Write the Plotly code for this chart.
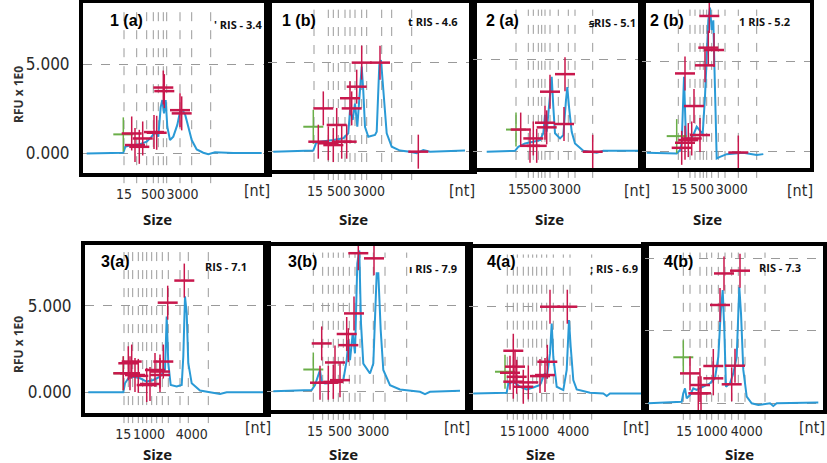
import plotly.graph_objects as go

W, H = 827, 463

# ---- data (x = migration position inside each panel, y = RFU) ----
# 1 (a)
p1a_x = [3.7, 40.3, 42.3, 47, 57, 63.7, 68.7, 72, 75.3, 77.7, 79.3, 81, 82.7, 84.3, 87, 90.3, 94.3, 97,
         99.7, 102.3, 105.3, 108.7, 113.7, 120.3, 125.3, 132, 150.3, 178.7]
p1a_y = [0, 0.04, 0.37, 0.45, 0.52, 0.66, 0.94, 1.2, 0.94, 2.6, 3.0, 2.25, 3.0, 1.5, 0.75, 0.94, 1.6, 2.34,
         2.43, 2.15, 1.5, 0.75, 0.22, 0.04, -0.04, 0.06, 0.02, 0.02]
p1a_red_x = [48.7, 52, 56.3, 59.7, 71, 73.7, 80.3, 81.3, 97, 98.7]
p1a_red_y = [1.12, 0.47, 0.37, 0.84, 1.2, 1.16, 3.7, 3.5, 2.43, 2.25]
p1a_green_x = [40.3]
p1a_green_y = [1.07]
p1a_ladder = [41, 53.7, 63.7, 70.3, 75.3, 80.3, 83.7, 97, 108.7, 127.7]
p1a_ticks = [41, 70, 99.5]

# 1 (b)
p1b_x = [5.3, 45.3, 48, 52, 65.3, 75.3, 80.3, 82, 84.7, 87, 89.3, 92, 93.7, 95.3, 97, 100.3, 107, 108.7,
         111.3, 113, 115.3, 118.7, 123.7, 132, 142, 148.7, 155.3, 162, 197]
p1b_y = [0, 0.06, 0.47, 0.56, 0.66, 0.75, 1.03, 2.34, 1.78, 2.7, 1.4, 3.8, 4.78, 3.4, 1.4, 0.84, 0.94, 1.12,
         4.87, 5.15, 3.65, 1.03, 0.28, 0.06, 0, -0.09, 0.09, 0, 0.06]
p1b_red_x = [55.3, 50.3, 60.3, 68.7, 73.7, 65.3, 78.7, 82, 83.7, 88.7, 93.7, 112, 150.3]
p1b_red_y = [2.43, 0.56, 0.47, 1.5, 0.56, 0.37, 0.56, 3.0, 2.43, 3.65, 5.0, 5.0, 0]
p1b_green_x = [45.3]
p1b_green_y = [1.4]
p1b_ladder = [46, 60.3, 65.3, 70.3, 77, 82, 87, 93.7, 98.7, 113.7, 123.7, 143.7]
p1b_ticks = [47, 71, 101]

# 2 (a)
p2a_x = [13.7, 42, 45.3, 52, 60.3, 67, 70.3, 72, 73.7, 77, 78.7, 80.3, 82, 87, 90.3, 93, 94.3, 96.3,
         98.7, 102, 110.3, 123.7, 130.3, 167]
p2a_y = [0, 0.05, 0.27, 0.45, 0.54, 0.63, 1.0, 2.0, 1.08, 3.0, 4.06, 2.44, 1.0, 0.72, 0.9, 2.8, 3.5, 2.26,
         1.08, 0.45, 0.05, -0.05, 0.05, 0.05]
p2a_red_x = [47.7, 60.3, 57, 63.7, 72, 73.7, 77, 92, 91, 119.7]
p2a_red_y = [1.2, 0.72, 0.32, 0.32, 1.57, 1.32, 3.25, 4.2, 1.5, 0]
p2a_green_x = [43]
p2a_green_y = [1.2]
p2a_ladder = [43, 55.3, 60.3, 65.3, 68.7, 72, 77, 85.3, 95.3, 102, 119.7]
p2a_ticks = [43, 62, 92]

# 2 (b)
p2b_x = [4.7, 34.7, 38, 39.7, 42, 44, 48, 51.3, 54.7, 58, 60.7, 63, 64.7, 66.3, 68, 69.7, 71.3, 73,
         74.7, 78, 84.7, 101.3, 114.7, 121.3]
p2b_y = [-0.05, -0.09, 0.09, 0.46, 4.17, 0.65, 0.65, 0.93, 1.39, 1.2, 1.0, 3.06, 5.65, 7.3, 8.0, 6.76, 7.3,
         3.8, -0.37, -0.28, -0.13, -0.05, -0.18, -0.13]
p2b_red_x = [43, 39.7, 43, 46.3, 49.7, 52, 58, 63, 72, 66.3, 67.3, 96.3]
p2b_red_y = [4.35, 0.22, 0.5, 0.65, 0.74, 2.54, 0.93, 4.8, 5.65, 5.78, 7.54, -0.04]
p2b_green_x = [34.7]
p2b_green_y = [0.87]
p2b_ladder = [36.3, 48, 53, 58, 61.3, 64.7, 69.7, 76.3, 83, 96.3, 114.7]
p2b_ticks = [37.3, 60, 89.7]

# 3(a)
p3a_x = [3.3, 38.3, 40, 43.3, 48.3, 55, 61.7, 68.3, 75, 80, 81.7, 83.3, 85.7, 91.7, 96.7, 98.3, 100, 101.7,
         103.3, 106.7, 115, 128.3, 135, 141.7, 178.3]
p3a_y = [0, 0, 0.52, 0.81, 0.9, 0.81, 0.62, 0.71, 0.9, 1.29, 4.38, 1.68, 0.42, 0.33, 0.42, 2.07, 5.55, 4.58,
         1.68, 0.52, 0.1, -0.02, -0.1, 0, 0]
p3a_red_x = [38.3, 43.3, 46.7, 45, 50, 53.3, 61.7, 65, 70, 75, 78.3, 75, 82.7, 99.3]
p3a_red_y = [1.1, 1.68, 1.78, 1.1, 1.0, 0.95, 0.42, 0.48, 1.29, 1.2, 1.78, 1.0, 5.19, 6.47]
p3a_green_x = [38.3]
p3a_green_y = [1.1]
p3a_ladder = [39, 43.3, 47.7, 53.3, 57.7, 61.7, 66.7, 71.7, 77.3, 83.3, 95, 103.3, 123.3]
p3a_ticks = [38.3, 64, 106.7]

# 3(b)
p3b_x = [6.3, 44.7, 48, 53, 54.7, 58, 66.3, 76.3, 79.7, 81.3, 83, 85.7, 88, 90.3, 92.3, 94, 96.3, 99.7,
         103, 106.3, 109.7, 111.3, 113.7, 116.3, 123, 133, 146.3, 153, 158, 163, 193]
p3b_y = [0, 0.06, 0.35, 1.23, 0.54, 0.45, 0.49, 0.64, 1.8, 2.98, 1.8, 3.37, 2.2, 7.45, 8.2, 3.95, 1.6, 1.3,
         1.03, 1.6, 6.87, 6.87, 3.56, 1.23, 0.35, 0.1, 0, -0.04, -0.17, -0.04, 0.02]
p3b_red_x = [54.7, 68, 61.3, 53, 66.3, 73, 79.7, 81.3, 87, 91.3, 107]
p3b_red_y = [2.78, 1.67, 0.49, 0.49, 0.54, 0.64, 3.33, 2.68, 4.53, 8.04, 7.74]
p3b_green_x = [46.3]
p3b_green_y = [1.26]
p3b_ladder = [46.3, 55.7, 61.3, 66.3, 71.3, 76.3, 82.3, 88, 93, 106.3, 118, 139.7]
p3b_ticks = [48, 73, 106.3]

# 4(a)
p4a_x = [4.3, 37.7, 39.3, 44.3, 51, 57.7, 64.3, 71, 74.3, 76, 77.7, 81, 82.7, 84.3, 87.7, 94.3, 97.7, 100,
         101.7, 104.3, 107.7, 121, 134.3, 137.7, 141, 174.3]
p4a_y = [0, 0.04, 0.57, 0.67, 0.38, 0.23, 0.34, 0.48, 0.95, 1.15, 0.86, 2.29, 4.0, 2.1, 0.38, 0.19, 1.34,
         4.2, 2.67, 0.76, 0.23, 0.04, 0, -0.15, 0, 0]
p4a_red_x = [44.3, 46, 41, 44.3, 47.7, 54.3, 59.3, 71, 76, 78.3, 81, 98.3]
p4a_red_y = [2.44, 1.53, 1.18, 0.67, 0.95, 0.38, 0.63, 0.99, 1.05, 1.81, 4.96, 4.96]
p4a_green_x = [36]
p4a_green_y = [1.24]
p4a_ladder = [38.3, 44.3, 48.3, 54.3, 59.3, 63.7, 67.7, 72.7, 77.7, 84.3, 94.3, 101, 122.7]
p4a_ticks = [38.7, 64.3, 104.3]

# 4(b)
p4b_x = [3.3, 36.7, 38.3, 40, 41.7, 45, 48.3, 51.7, 58.3, 65, 70, 73.3, 75.7, 77.7, 79.3, 81, 85, 88.3,
         91.7, 94.3, 96, 98.3, 101.7, 106.7, 113.3, 125, 128.3, 131.7, 173.3]
p4b_y = [0, 0.11, 0.69, 1.03, 0.34, 0.57, 1.03, 0.92, 1.15, 1.38, 1.72, 3.2, 6.2, 7.8, 5.05, 1.15, 1.38,
         2.06, 3.2, 8.0, 6.2, 2.3, 0.46, 0, -0.11, 0, -0.18, 0, 0.05]
p4b_red_x = [45, 55, 53.3, 56, 68.3, 68.3, 75, 79, 86.7, 90, 95]
p4b_red_y = [2.06, 1.26, 0.69, 0.69, 2.57, 1.72, 6.77, 8.94, 1.31, 2.59, 9.13]
p4b_green_x = [38.3]
p4b_green_y = [3.17]
p4b_ladder = [38.3, 45, 55, 61.7, 66.7, 73.3, 80, 86.7, 93.3, 100, 120]
p4b_ticks = [39, 66.7, 101.7]

labels_a = ["15", "500", "3000"]
labels_b = ["15", "1000", "4000"]
titles = ["1 (a)", "1 (b)", "2 (a)", "2 (b)", "3(a)", "3(b)", "4(a)", "4(b)"]
ris = ["' RIS - 3.4", "t RIS - 4.6", "ꞩRIS - 5.1", "1 RIS - 5.2",
       "RIS - 7.1", "ı RIS - 7.9", "; RIS - 6.9", "RIS - 7.3"]

panels = [
    dict(x=p1a_x, y=p1a_y, rx=p1a_red_x, ry=p1a_red_y, gx=p1a_green_x, gy=p1a_green_y, lad=p1a_ladder, tv=p1a_ticks, tt=labels_a),
    dict(x=p1b_x, y=p1b_y, rx=p1b_red_x, ry=p1b_red_y, gx=p1b_green_x, gy=p1b_green_y, lad=p1b_ladder, tv=p1b_ticks, tt=labels_a),
    dict(x=p2a_x, y=p2a_y, rx=p2a_red_x, ry=p2a_red_y, gx=p2a_green_x, gy=p2a_green_y, lad=p2a_ladder, tv=p2a_ticks, tt=labels_a),
    dict(x=p2b_x, y=p2b_y, rx=p2b_red_x, ry=p2b_red_y, gx=p2b_green_x, gy=p2b_green_y, lad=p2b_ladder, tv=p2b_ticks, tt=labels_a),
    dict(x=p3a_x, y=p3a_y, rx=p3a_red_x, ry=p3a_red_y, gx=p3a_green_x, gy=p3a_green_y, lad=p3a_ladder, tv=p3a_ticks, tt=labels_b),
    dict(x=p3b_x, y=p3b_y, rx=p3b_red_x, ry=p3b_red_y, gx=p3b_green_x, gy=p3b_green_y, lad=p3b_ladder, tv=p3b_ticks, tt=labels_a),
    dict(x=p4a_x, y=p4a_y, rx=p4a_red_x, ry=p4a_red_y, gx=p4a_green_x, gy=p4a_green_y, lad=p4a_ladder, tv=p4a_ticks, tt=labels_b),
    dict(x=p4b_x, y=p4b_y, rx=p4b_red_x, ry=p4b_red_y, gx=p4b_green_x, gy=p4b_green_y, lad=p4b_ladder, tv=p4b_ticks, tt=labels_b),
]

# ---- layout of the collage (pixel boxes: left, right, top, bottom) and y ranges ----
boxes = [(83, 268, 3, 173), (268, 473, 3, 170), (473, 642, 3, 168), (642, 810, 3, 168),
         (85, 267, 245, 413), (267, 469, 246, 410), (469, 645, 248, 410), (645, 823, 246, 410)]
yranges = [(-1.1, 8.45), (-1.03, 8.35), (-0.88, 8.05), (-0.9, 8.26),
           (-1.2, 8.53), (-1.1, 8.46), (-0.95, 8.32), (-0.46, 10.83)]
title_pos = [(127, 20), (299, 20), (502, 20), (667, 20), (115, 261), (302, 261), (501, 261), (678, 261)]
ris_pos = [(238, 25), (433, 21), (612, 22), (764, 21), (226, 266), (433, 268), (614, 268), (780, 267)]
nt_pos = [(257, 190), (462, 190), (637, 190), (800, 190), (258, 427), (457, 427), (636, 427), (812, 427)]
size_pos = [(157, 219), (353, 219), (549, 219), (707, 219), (157, 454), (343, 454), (540, 454), (739, 454)]

BLUE = "#2a9ad6"
RED = "#c8174c"
GREEN = "#6aae48"
GRID = "#9a9a9a"
NARROW = "Liberation Sans Narrow, DejaVu Sans Condensed, Roboto, sans-serif"

fig = go.Figure()
shapes = []
annotations = []


def note(px, py, text, font, angle=0):
    return dict(x=px / W, y=1 - py / H, xref="paper", yref="paper", text=text, showarrow=False,
                xanchor="center", yanchor="middle", textangle=angle, font=font)


for i, (p, box, yr) in enumerate(zip(panels, boxes, yranges)):
    n = "" if i == 0 else str(i + 1)
    xa, ya = "x" + n, "y" + n
    l, r, t, b = box
    px_per_unit = (b - t) / (yr[1] - yr[0])
    arm_y = 17 / px_per_unit

    fig.add_trace(go.Scatter(x=p["x"], y=p["y"], mode="lines", xaxis=xa, yaxis=ya,
                             line=dict(color=BLUE, width=2), showlegend=False, hoverinfo="skip"))
    fig.add_trace(go.Scatter(x=p["gx"], y=p["gy"], mode="markers", xaxis=xa, yaxis=ya,
                             marker=dict(size=1, opacity=0), showlegend=False, hoverinfo="skip",
                             error_x=dict(type="constant", value=10, width=0, thickness=2, color=GREEN),
                             error_y=dict(type="constant", value=arm_y, width=0, thickness=1.5, color=GREEN)))
    fig.add_trace(go.Scatter(x=p["rx"], y=p["ry"], mode="markers", xaxis=xa, yaxis=ya,
                             marker=dict(size=1, opacity=0), showlegend=False, hoverinfo="skip",
                             error_x=dict(type="constant", value=10, width=0, thickness=2.5, color=RED),
                             error_y=dict(type="constant", value=arm_y, width=0, thickness=1.5, color=RED)))

    yt = [0, 5, 10] if i == 7 else [0, 5]
    fig.update_layout({
        ("xaxis" + n): dict(domain=[l / W, r / W], range=[0, r - l], anchor=ya,
                            showline=True, mirror=True, linewidth=4, linecolor="black",
                            showgrid=False, zeroline=False, tickmode="array",
                            tickvals=p["tv"], ticktext=p["tt"], ticks="", tickangle=0,
                            ticklabelstandoff=5,
                            tickfont=dict(family=NARROW, size=14, color="#2a2a2a")),
        ("yaxis" + n): dict(domain=[1 - b / H, 1 - t / H], range=list(yr), anchor=xa,
                            showline=True, mirror=True, linewidth=4, linecolor="black",
                            showgrid=True, gridcolor=GRID, griddash="dash", gridwidth=1,
                            zeroline=False, tickmode="array", tickvals=yt,
                            ticktext=["%.3f" % v for v in yt], ticks="",
                            showticklabels=(i in (0, 4)), ticklabelstandoff=6,
                            tickfont=dict(family=NARROW, size=17, color="#2a2a2a")),
    })

    for lx in p["lad"]:
        shapes.append(dict(type="line", xref=xa, yref=ya + " domain", x0=lx, x1=lx, y0=-0.06, y1=0.96,
                           line=dict(color=GRID, width=1, dash="dash"), layer="below"))

    annotations.append(note(*title_pos[i], "<b>%s</b>" % titles[i],
                            dict(family="Liberation Sans", size=16, color="black")))
    annotations.append(note(*ris_pos[i], "<b>%s</b>" % ris[i],
                            dict(family="Open Sans", size=11, color="#111")))
    annotations.append(note(*nt_pos[i], "[nt]", dict(family=NARROW, size=16, color="#2a2a2a")))
    annotations.append(note(*size_pos[i], "<b>Size</b>", dict(family="Open Sans", size=15, color="#1a1a1a")))

for cy in (95, 345):
    annotations.append(note(18, cy, "<b>RFU x 1E0</b>", dict(family="Open Sans", size=12, color="#333"), -90))

fig.update_layout(width=W, height=H, margin=dict(l=0, r=0, t=0, b=0),
                  paper_bgcolor="white", plot_bgcolor="white", hovermode=False,
                  shapes=shapes, annotations=annotations)

fig.write_html("out.html", config={"displayModeBar": False},
               post_script="document.body.style.margin='0';")
